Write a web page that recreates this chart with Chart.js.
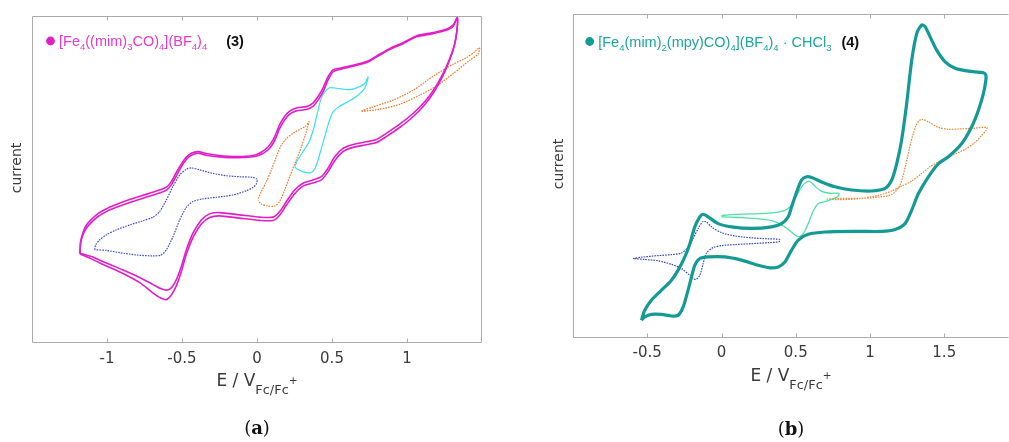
<!DOCTYPE html>
<html>
<head>
<meta charset="utf-8">
<script src="https://cdn.jsdelivr.net/npm/chart.js@4.4.0/dist/chart.umd.min.js"></script>
<style>
  html, body { margin: 0; padding: 0; background: #fff; }
  #wrap { position: relative; width: 1009px; height: 442px; overflow: hidden; }
  #boxA { position: absolute; left: 0; top: 0; width: 500px; height: 442px; }
  #boxB { position: absolute; left: 520px; top: 0; width: 489px; height: 442px; }
</style>
</head>
<body>
<div id="wrap">
  <div id="boxA"><canvas id="cvA"></canvas></div>
  <div id="boxB"><canvas id="cvB"></canvas></div>
</div>
<script>
// --- Tick labels ---
const ticksA = [-1, -0.5, 0, 0.5, 1];
const ticksB = [-0.5, 0, 0.5, 1, 1.5];

// --- Panel (a): [Fe4((mim)3CO)4](BF4)4, E in V vs Fc/Fc+, current in arbitrary units ---
// full window, two scans (upper branch then return branch)
const aFullE = [-1.180, -1.176, -1.160, -1.138, -1.104, -1.060, -1.004, -0.938, -0.849, -0.760, -0.671, -0.604, -0.571, -0.538, -0.504, -0.471, -0.438, -0.393, -0.338, -0.249, -0.138, -0.027, 0.029, 0.073, 0.107, 0.129, 0.151, 0.184, 0.218, 0.262, 0.329, 0.373, 0.407, 0.440, 0.473, 0.507, 0.551, 0.640, 0.740, 0.796, 0.884, 0.973, 1.062, 1.173, 1.262, 1.307, 1.336,
  1.333, 1.318, 1.284, 1.240, 1.184, 1.118, 1.040, 0.951, 0.862, 0.796, 0.729, 0.640, 0.573, 0.518, 0.473, 0.429, 0.373, 0.307, 0.251, 0.196, 0.151, 0.107, 0.018, -0.116, -0.249, -0.316, -0.371, -0.427, -0.471, -0.504, -0.538, -0.571, -0.604, -0.638, -0.693, -0.782, -0.893, -1.004, -1.104, -1.180];
const aScan1 = [27.2, 30.3, 32.9, 34.9, 36.7, 38.5, 40.0, 41.3, 42.8, 44.1, 45.4, 46.6, 48.2, 50.9, 53.8, 56.0, 57.3, 57.9, 57.3, 56.8, 56.5, 56.8, 57.6, 58.9, 60.9, 63.0, 65.5, 68.1, 69.9, 70.9, 71.3, 72.3, 74.2, 76.7, 80.3, 82.9, 83.6, 84.6, 85.9, 87.4, 89.7, 91.5, 93.6, 94.6, 95.6, 96.8, 99.5,
  95.6, 91.5, 86.9, 82.3, 77.8, 73.7, 70.1, 66.8, 64.0, 62.1, 61.4, 60.6, 59.4, 56.8, 53.3, 50.7, 49.7, 48.7, 46.6, 43.1, 40.0, 38.3, 38.3, 39.0, 39.7, 39.3, 37.4, 33.4, 28.3, 23.2, 19.1, 16.6, 15.9, 16.3, 17.6, 19.8, 22.1, 24.2, 26.2, 27.2];
const aScan2 = [27.0, 30.8, 33.6, 35.8, 37.6, 39.4, 40.9, 42.2, 43.7, 45.0, 46.3, 47.5, 49.2, 52.0, 54.6, 56.7, 57.9, 58.4, 57.8, 57.2, 56.9, 57.2, 58.2, 59.8, 62.0, 64.2, 66.7, 69.2, 70.8, 71.8, 72.2, 73.3, 75.3, 77.9, 81.3, 83.5, 84.0, 84.9, 86.2, 87.7, 90.0, 91.8, 93.9, 94.9, 95.9, 97.2, 99.5,
  95.6, 91.3, 86.4, 81.7, 77.0, 72.8, 69.1, 65.8, 63.0, 61.2, 60.5, 59.7, 58.4, 55.6, 52.2, 49.7, 48.8, 47.8, 45.5, 42.0, 38.9, 37.3, 37.3, 38.0, 38.7, 38.2, 36.2, 32.0, 26.9, 21.6, 17.2, 14.4, 13.0, 13.4, 15.0, 18.2, 21.0, 23.3, 25.5, 27.0];
// first couple, -1.1 .. 0 V
const aBlueE = [-1.082, -1.076, -1.049, -1.004, -0.938, -0.849, -0.760, -0.693, -0.649, -0.604, -0.560, -0.516, -0.471, -0.438, -0.382, -0.293, -0.204, -0.116, -0.027, 0.000, -0.004, -0.027, -0.071, -0.160, -0.271, -0.360, -0.427, -0.471, -0.516, -0.560, -0.604, -0.638, -0.693, -0.804, -0.916, -1.004, -1.082];
const aBlueI = [28.3, 29.8, 31.3, 32.9, 34.4, 35.9, 37.2, 38.3, 40.0, 43.6, 47.7, 51.2, 53.0, 53.4, 52.8, 51.7, 51.0, 50.7, 50.5, 49.9, 48.5, 47.4, 46.4, 45.1, 44.4, 43.9, 43.1, 41.3, 37.4, 32.3, 28.3, 26.7, 26.4, 26.7, 27.4, 28.1, 28.3];
// 0 .. 0.35 V
const aOrangeE = [0.007, 0.029, 0.062, 0.096, 0.129, 0.162, 0.196, 0.240, 0.284, 0.324, 0.347, 0.338, 0.322, 0.296, 0.262, 0.222, 0.184, 0.151, 0.118, 0.073, 0.029, 0.007];
const aOrangeI = [44.0, 46.1, 49.2, 52.8, 56.8, 60.4, 62.4, 64.0, 65.2, 66.2, 67.6, 66.0, 63.5, 59.9, 55.8, 51.2, 46.6, 43.1, 41.7, 41.7, 42.3, 43.4];
// 0.25 .. 0.75 V
const aCyanE = [0.251, 0.273, 0.307, 0.347, 0.378, 0.402, 0.424, 0.451, 0.484, 0.551, 0.618, 0.673, 0.718, 0.740, 0.736, 0.718, 0.673, 0.618, 0.551, 0.507, 0.480, 0.458, 0.429, 0.407, 0.384, 0.356, 0.307, 0.262, 0.251];
const aCyanI = [53.8, 56.0, 58.4, 61.4, 65.5, 70.1, 74.2, 76.7, 78.0, 77.7, 77.4, 78.1, 79.3, 81.3, 80.1, 77.8, 75.7, 74.0, 72.3, 70.6, 67.6, 64.0, 59.4, 55.8, 53.0, 51.9, 52.2, 53.2, 53.8];
// 0.7 .. 1.48 V
const aOrange2E = [0.696, 0.773, 0.907, 1.040, 1.173, 1.307, 1.396, 1.451, 1.484, 1.473, 1.418, 1.307, 1.196, 1.084, 0.951, 0.818, 0.729, 0.696];
const aOrange2I = [70.9, 72.1, 74.2, 77.2, 81.5, 85.2, 87.2, 89.0, 90.3, 88.3, 86.4, 82.3, 78.5, 75.7, 72.9, 71.4, 70.9, 70.8];

// --- Panel (b): [Fe4(mim)2(mpy)CO)4](BF4)4 . CHCl3 ---
const bFullE = [-0.539, -0.517, -0.472, -0.404, -0.337, -0.292, -0.247, -0.213, -0.180, -0.146, -0.124, -0.090, -0.022, 0.067, 0.202, 0.337, 0.404, 0.449, 0.472, 0.506, 0.539, 0.573, 0.607, 0.674, 0.764, 0.876, 1.011, 1.101, 1.146, 1.180, 1.213, 1.247, 1.281, 1.315, 1.348, 1.371, 1.404, 1.449, 1.506, 1.573, 1.663, 1.764, 1.780,
  1.780, 1.764, 1.730, 1.685, 1.618, 1.528, 1.461, 1.393, 1.326, 1.281, 1.236, 1.169, 1.079, 0.921, 0.697, 0.584, 0.517, 0.472, 0.427, 0.382, 0.326, 0.247, 0.135, 0.022, -0.090, -0.146, -0.180, -0.202, -0.225, -0.258, -0.292, -0.337, -0.404, -0.472, -0.517, -0.539];
const bFullI = [5.2, 8.3, 11.4, 14.5, 17.6, 20.7, 24.8, 28.9, 34.1, 37.2, 38.0, 37.2, 35.1, 34.1, 33.6, 34.1, 35.1, 37.2, 40.3, 44.9, 48.6, 49.6, 49.4, 48.0, 46.5, 45.5, 45.2, 46.0, 48.6, 53.7, 61.0, 72.3, 85.7, 94.0, 96.6, 96.1, 93.0, 88.8, 85.2, 83.2, 82.3, 81.8, 81.1,
  79.5, 75.4, 70.2, 65.1, 59.9, 55.8, 53.7, 49.6, 44.4, 39.3, 35.1, 33.3, 32.7, 32.7, 32.5, 31.8, 30.0, 26.9, 23.2, 21.7, 21.4, 22.2, 23.8, 24.8, 24.8, 24.3, 22.2, 18.6, 14.5, 9.3, 6.7, 6.5, 7.0, 7.0, 6.2, 5.2];
const bBlueE = [-0.596, -0.539, -0.427, -0.337, -0.270, -0.225, -0.191, -0.157, -0.124, -0.101, -0.067, 0.000, 0.090, 0.202, 0.315, 0.393, 0.387, 0.315, 0.202, 0.090, 0.000, -0.056, -0.101, -0.124, -0.146, -0.175, -0.213, -0.270, -0.337, -0.427, -0.517, -0.596];
const bBlueI = [24.3, 24.7, 25.2, 25.5, 26.0, 27.7, 30.5, 33.6, 35.8, 35.6, 34.1, 32.3, 31.3, 30.7, 30.4, 30.2, 29.5, 29.2, 28.9, 28.6, 28.3, 27.7, 26.0, 22.7, 19.1, 17.8, 19.1, 21.2, 22.5, 23.6, 24.0, 24.3];
const bMintE = [0.000, 0.067, 0.202, 0.337, 0.427, 0.472, 0.506, 0.539, 0.573, 0.600, 0.629, 0.674, 0.730, 0.791, 0.782, 0.742, 0.697, 0.652, 0.618, 0.584, 0.551, 0.521, 0.483, 0.427, 0.337, 0.225, 0.112, 0.000];
const bMintI = [37.6, 37.9, 38.1, 38.4, 39.2, 40.8, 43.7, 46.5, 48.0, 48.0, 46.7, 45.1, 44.5, 44.5, 43.4, 42.6, 41.9, 41.3, 39.0, 35.1, 32.0, 31.0, 32.0, 34.1, 36.0, 36.7, 37.0, 37.2];
const bOrangeE = [0.708, 0.809, 0.921, 1.034, 1.146, 1.202, 1.240, 1.276, 1.308, 1.344, 1.393, 1.461, 1.528, 1.596, 1.685, 1.787, 1.782, 1.748, 1.703, 1.640, 1.551, 1.472, 1.404, 1.348, 1.281, 1.213, 1.146, 1.056, 0.921, 0.787, 0.708];
const bOrangeI = [42.7, 42.9, 42.9, 43.2, 44.1, 47.0, 53.2, 60.4, 65.3, 67.4, 66.6, 64.9, 64.3, 64.4, 64.6, 64.9, 64.0, 62.2, 60.1, 58.1, 56.2, 54.5, 52.7, 50.6, 48.3, 46.7, 45.2, 43.8, 42.8, 42.5, 42.7];

// --- Labels ---
const labelA = "[Fe_4((mim)_3CO)_4](BF_4)_4";
const labelB = "[Fe_4(mim)_2(mpy)CO)_4](BF_4)_4 · CHCl_3";
const xTitle = "E / V_{Fc/Fc}^+";
const yTitle = "current";

// --- Styles ---
const MAGENTA = "#e21ec9", TEAL = "#149a94";
const SANS = '"DejaVu Sans", sans-serif';
const ARIAL = '"Liberation Sans", Arial, sans-serif';
const SERIF = '"DejaVu Serif", serif';
const frameColor = "#ababab";
const textColor = "#3a3a3a";

function pts(xs, ys) { return xs.map((v, i) => ({ x: v, y: ys[i] })); }

function curve(xs, ys, color, width, dotted) {
  return {
    data: pts(xs, ys), borderColor: color, borderWidth: width,
    borderDash: dotted ? [1.6, 1.1] : [], showLine: true, pointRadius: 0, fill: false
  };
}

// --- rich text: "_x" / "_{..}" subscript, "^x" superscript ---
function parseRich(s) {
  const out = []; let buf = "";
  for (let i = 0; i < s.length; i++) {
    const c = s[i];
    if (c === "_" || c === "^") {
      if (buf) { out.push({ t: buf, m: "" }); buf = ""; }
      let t;
      if (s[i + 1] === "{") { const j = s.indexOf("}", i); t = s.slice(i + 2, j); i = j; }
      else { t = s[i + 1]; i++; }
      out.push({ t, m: c });
    } else buf += c;
  }
  if (buf) out.push({ t: buf, m: "" });
  return out;
}

function drawRich(ctx, s, x, y, st) {
  const segs = parseRich(s);
  const size = m => m === "_" ? st.size * st.sub[0] : m === "^" ? st.size * st.sup[0] : st.size;
  const font = m => `${st.weight || "normal"} ${size(m)}px ${st.family}`;
  let w = 0;
  segs.forEach(g => { ctx.font = font(g.m); g.w = ctx.measureText(g.t).width; w += g.w; });
  let cx = st.align === "center" ? x - w / 2 : x;
  ctx.fillStyle = st.color;
  ctx.textAlign = "left";
  ctx.textBaseline = "alphabetic";
  segs.forEach(g => {
    ctx.font = font(g.m);
    const dy = g.m === "_" ? st.sub[1] : g.m === "^" ? st.sup[1] : 0;
    ctx.fillText(g.t, cx, y + dy);
    cx += g.w;
  });
  return cx;
}

// frame, inner ticks, legend, axis titles, caption
function decor(o) {
  return {
    id: "decor",
    afterDraw(chart) {
      const { ctx, chartArea: a } = chart;
      const x = chart.scales.x;
      ctx.save();
      const L = Math.round(a.left) + 0.5, R = Math.round(a.right) - 0.5;
      const T = Math.round(a.top) + 0.5, B = Math.round(a.bottom) + 0.5;
      ctx.strokeStyle = frameColor;
      ctx.lineWidth = 1;
      ctx.beginPath();
      ctx.moveTo(R, T); ctx.lineTo(L, T); ctx.lineTo(L, B); ctx.lineTo(R, B);
      if (o.closed) ctx.lineTo(R, T);
      x.ticks.forEach(t => {
        const px = Math.round(x.getPixelForValue(t.value)) + 0.5;
        ctx.moveTo(px, B); ctx.lineTo(px, B - 4);
        ctx.moveTo(px, T); ctx.lineTo(px, T + 4);
      });
      ctx.stroke();

      // legend
      const lx = a.left + o.legend[0], ly = a.top + o.legend[1];
      ctx.fillStyle = o.color;
      ctx.beginPath(); ctx.arc(lx, ly - 5, 4.4, 0, Math.PI * 2); ctx.fill();
      const end = drawRich(ctx, o.label, lx + 8.5, ly, { size: 14.5, family: ARIAL, color: o.textColor, sub: [0.66, 4], sup: [0.6, -5] });
      ctx.font = `bold 14.5px ${ARIAL}`;
      ctx.fillStyle = "#111";
      ctx.fillText(o.num, end + o.gap, ly);

      // x title
      const mid = (a.left + a.right) / 2;
      drawRich(ctx, xTitle, mid + o.titleDx, a.bottom + o.titleY, { size: 17, family: SANS, color: textColor, align: "center", sub: [0.76, 8], sup: [0.62, -2] });

      // y title
      ctx.save();
      ctx.translate(o.yTitle[0], o.yTitle[1]);
      ctx.rotate(-Math.PI / 2);
      ctx.font = `14px ${SANS}`;
      ctx.fillStyle = textColor;
      ctx.textAlign = "center";
      ctx.textBaseline = "middle";
      ctx.fillText(yTitle, 0, 0);
      ctx.restore();

      // caption (a) / (b)
      ctx.font = `18px ${SERIF}`;
      const wp = ctx.measureText("(").width;
      ctx.font = `bold 18px ${SERIF}`;
      const wl = ctx.measureText(o.cap).width;
      const cx0 = mid + o.capDx - (2 * wp + wl) / 2, cy = o.capY;
      ctx.fillStyle = "#111";
      ctx.textAlign = "left";
      ctx.textBaseline = "alphabetic";
      ctx.font = `18px ${SERIF}`;
      ctx.fillText("(", cx0, cy);
      ctx.fillText(")", cx0 + wp + wl, cy);
      ctx.font = `bold 18px ${SERIF}`;
      ctx.fillText(o.cap, cx0 + wp, cy);
      ctx.restore();
    }
  };
}

function options(xMin, xMax, ticks, pad, axisH, tickPad) {
  return {
    responsive: true, maintainAspectRatio: false, animation: false,
    layout: { padding: pad },
    plugins: { legend: { display: false }, tooltip: { enabled: false } },
    elements: { line: { tension: 0.25 }, point: { radius: 0 } },
    scales: {
      x: {
        type: "linear", min: xMin, max: xMax,
        afterBuildTicks: s => { s.ticks = ticks.map(v => ({ value: v })); },
        afterFit: s => { s.height = axisH; },
        grid: { display: false, drawTicks: false },
        border: { display: false },
        ticks: { padding: tickPad, color: textColor, font: { family: "DejaVu Sans", size: 15 }, autoSkip: false, maxRotation: 0, callback: v => String(v) }
      },
      y: { type: "linear", min: 0, max: 100, display: false }
    }
  };
}

new Chart(document.getElementById("cvA"), {
  type: "scatter",
  data: {
    datasets: [
      curve(aFullE, aScan1, MAGENTA, 1.6, false),
      curve(aFullE, aScan2, MAGENTA, 1.6, false),
      curve(aBlueE, aBlueI, "#3c4fd4", 1.2, true),
      curve(aOrangeE, aOrangeI, "#ee7a2c", 1.2, true),
      curve(aCyanE, aCyanI, "#3ce0ee", 1.2, false),
      curve(aOrange2E, aOrange2I, "#ee7a2c", 1.2, true)
    ]
  },
  options: options(-1.5, 1.5, ticksA, { left: 32, top: 16, right: 18, bottom: 0 }, 100, 8),
  plugins: [decor({ closed: true, legend: [18.5, 30], color: MAGENTA, textColor: "#e43bcb", label: labelA, num: "(3)", gap: 19,
    titleDx: 0, titleY: 44, yTitle: [17, 168], cap: "a", capDx: 0, capY: 434 })]
});

new Chart(document.getElementById("cvB"), {
  type: "scatter",
  data: {
    datasets: [
      curve(bFullE, bFullI, TEAL, 3.2, false),
      curve(bBlueE, bBlueI, "#3447c8", 1.2, true),
      curve(bMintE, bMintI, "#4fe0a6", 1.3, false),
      curve(bOrangeE, bOrangeI, "#e9893a", 1.2, true)
    ]
  },
  options: options(-1.0, 1.936, ticksB, { left: 53, top: 14, right: 0, bottom: 0 }, 105, 7),
  plugins: [decor({ closed: false, legend: [16.7, 32.5], color: TEAL, textColor: "#1ea59e", label: labelB, num: "(4)", gap: 10,
    titleDx: 0, titleY: 43.5, yTitle: [39, 164], cap: "b", capDx: 0, capY: 435 })]
});
</script>
</body>
</html>
